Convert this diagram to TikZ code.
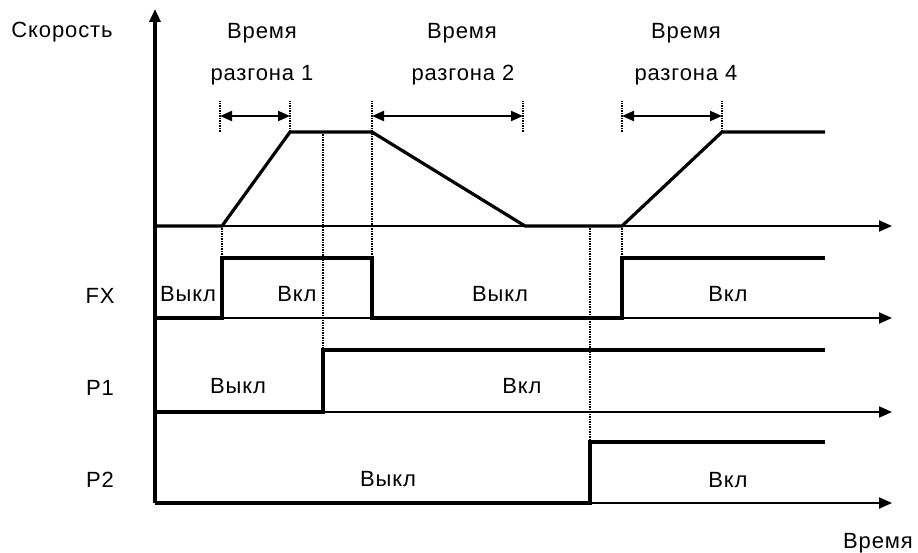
\documentclass[tikz,border=0pt]{standalone}
\usepackage{fontspec}
\setmainfont{Liberation Sans}[LetterSpace=4]
\usetikzlibrary{arrows.meta}

\begin{document}
\begin{tikzpicture}[x=1pt, y=-1pt,
    axis/.style={line width=2pt, -{Triangle[length=13pt, width=11pt]}},
    signal/.style={line width=3.2pt},
    guide/.style={densely dotted, line width=1.5pt},
    span/.style={line width=2pt, {Triangle[length=12pt, width=10pt]}-{Triangle[length=12pt, width=10pt]}},
    every node/.style={font=\fontsize{22}{26}\selectfont}]
    \useasboundingbox (0,0) rectangle (918,553);

    % Axes
    \draw[axis, line width=3.2pt] (155,503) -- (155,9);
    \foreach \y in {226,318,412,503}
        \draw[axis] (155,\y) -- (892,\y);

    % Speed
    \draw[signal] (155,226) -- (222,226) -- (290,132) -- (372,132) -- (525,226)
        -- (622,226) -- (722,132) -- (825,132);

    % FX, P1, P2
    \draw[signal] (155,318) -- (222,318) -- (222,258) -- (372,258) -- (372,318)
        -- (622,318) -- (622,258) -- (825,258);
    \draw[signal] (155,412) -- (323,412) -- (323,350) -- (825,350);
    \draw[signal] (155,503) -- (590,503) -- (590,442) -- (825,442);

    % Time marks
    \coordinate (a1) at (220,116);
    \coordinate (b1) at (290,116);
    \coordinate (a2) at (372,116);
    \coordinate (b2) at (523,116);
    \coordinate (a4) at (622,116);
    \coordinate (b4) at (722,116);
    \foreach \p in {a1,b1,a2,b2,a4,b4}
        \draw[guide] ([yshift=-16pt]\p) -- ([yshift=15pt]\p);
    \draw[guide] (222,226) -- (222,258);
    \draw[guide] (323,132) -- (323,350);
    \draw[guide] (372,131) -- (372,258);
    \draw[guide] (590,226) -- (590,442);
    \draw[guide] (622,226) -- (622,258);

    \draw[span] (a1) -- (b1);
    \draw[span] (a2) -- (b2);
    \draw[span] (a4) -- (b4);

    % Labels
    \node (speed) at (62,32) {Скорость};
    \node (time) at (878,543) {Время};
    \node (t1a) at (262,33) {Время};
    \node (t1b) at (262,75) {разгона 1};
    \node (t2a) at (462,33) {Время};
    \node (t2b) at (463,75) {разгона 2};
    \node (t4a) at (686,33) {Время};
    \node (t4b) at (686,75) {разгона 4};

    \node (fx) at (100,296) {FX};
    \node (p1) at (100,388) {P1};
    \node (p2) at (100,480) {P2};

    \node (fxoff1) at (188,294) {Выкл};
    \node (fxon1) at (297,294) {Вкл};
    \node (fxoff2) at (500,294) {Выкл};
    \node (fxon2) at (728,294) {Вкл};
    \node (p1off) at (238,386) {Выкл};
    \node (p1on) at (522,386) {Вкл};
    \node (p2off) at (388,479) {Выкл};
    \node (p2on) at (728,480) {Вкл};
\end{tikzpicture}
\end{document}
